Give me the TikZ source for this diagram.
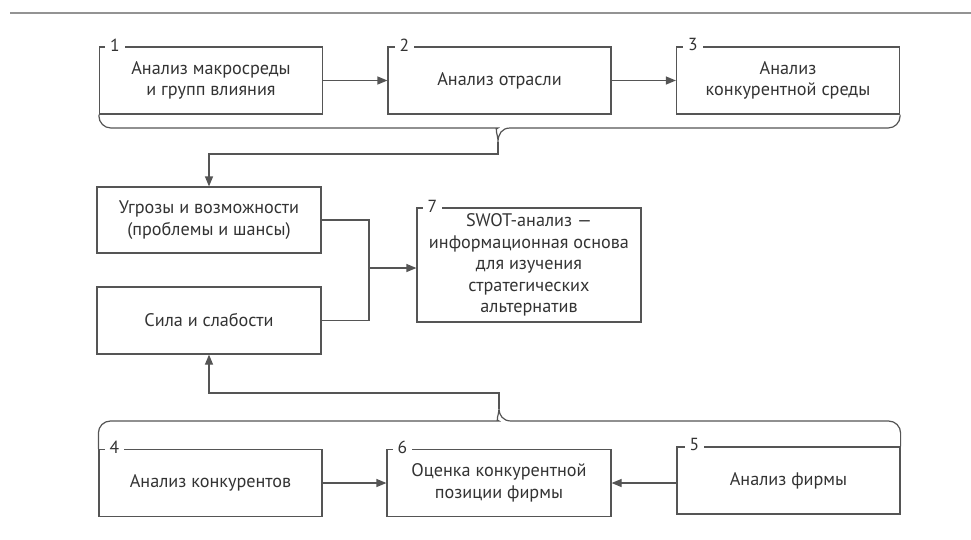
\documentclass[tikz,border=0pt]{standalone}
\usepackage{fontspec}
\setmainfont{PT Sans}
\usetikzlibrary{positioning,arrows.meta}
\definecolor{linegray}{HTML}{555555}
\definecolor{textgray}{HTML}{333333}
\tikzset{
  box/.style={draw=linegray, line width=1.2pt, minimum width=223pt, minimum height=67pt,
    align=center, text=textgray, inner sep=0pt, font=\fontsize{18.2}{21.5}\selectfont},
  num/.style={fill=white, text=textgray, inner xsep=5pt, inner ysep=1pt,
    font=\fontsize{17.5}{18}\selectfont},
  link/.style={draw=linegray, line width=1.2pt, -{Triangle[length=10pt,width=8pt]}},
  brace/.style={draw=linegray, line width=1.2pt}
}
\begin{document}
\begin{tikzpicture}[x=1pt,y=-1pt]
    \useasboundingbox (0,0) rectangle (971,539);
    \draw[gray!85, line width=2.5pt] (10,13) -- (971,13);
    % row 1
    \node[box] (macro) at (211,80.5) {Анализ макросреды\\и групп влияния};
    \node[box] (branch) at (499.5,80.5) {Анализ отрасли};
    \node[box] (compenv) at (788,80.5) {Анализ\\конкурентной среды};
    \node[num] at ([xshift=16pt,yshift=1.5pt]macro.north west) {1};
    \node[num] at ([xshift=17pt,yshift=1.5pt]branch.north west) {2};
    \node[num] at ([xshift=17pt,yshift=1.5pt]compenv.north west) {3};
    \draw[link] (macro) -- (branch);
    \draw[link] (branch) -- (compenv);
    % middle
    \node[box, minimum width=224pt, minimum height=66pt] (threats) at (209,220) {Угрозы и возможности\\(проблемы и шансы)};
    \node[box, minimum width=224pt] (strength) at (209,320.5) {Сила и слабости};
    \node[box, minimum width=224pt, minimum height=114pt] (swot) at (529,265) {SWOT-анализ —\\информационная основа\\для изучения\\стратегических\\альтернатив};
    \node[num] at ([xshift=16pt,yshift=1.5pt]swot.north west) {7};
    % row 2
    \node[box] (rivals) at (210.5,483) {Анализ конкурентов};
    \node[box, minimum width=224pt] (position) at (499,483) {Оценка конкурентной\\позиции фирмы};
    \node[box] (firm) at (788.5,480.5) {Анализ фирмы};
    \node[num] at ([xshift=16pt,yshift=1.5pt]rivals.north west) {4};
    \node[num] at ([xshift=16pt,yshift=1.5pt]position.north west) {6};
    \node[num] at ([xshift=18pt,yshift=1.5pt]firm.north west) {5};
    \draw[link] (rivals) -- (position);
    \draw[link] (firm.west |- position.east) -- (position.east);
    % braces
    \coordinate (topcusp) at (498,142);
    \coordinate (botcusp) at (499,409);
    \draw[brace] (macro.south west) [rounded corners=12pt] |- (486,128) [sharp corners]
        .. controls (494,128) and (498,134) .. (topcusp)
        .. controls (498,134) and (502,128) .. (510,128) [rounded corners=12pt] -| (compenv.south east);
    \draw[brace] (rivals.north west) [rounded corners=12pt] |- (487,421) [sharp corners]
        .. controls (495,421) and (499,415) .. (botcusp)
        .. controls (499,415) and (503,421) .. (511,421) [rounded corners=12pt] -| (firm.north east);
    % connectors
    \coordinate (join) at (369,268);
    \draw[link] (topcusp) -- ++(0,12) -| (threats.north);
    \draw[brace] (threats.east) -| (join);
    \draw[brace] (strength.east) -| (join);
    \draw[link] (join) -- (join -| swot.west);
    \draw[link] (botcusp) -- ++(0,-16) -| (strength.south);
\end{tikzpicture}
\end{document}
